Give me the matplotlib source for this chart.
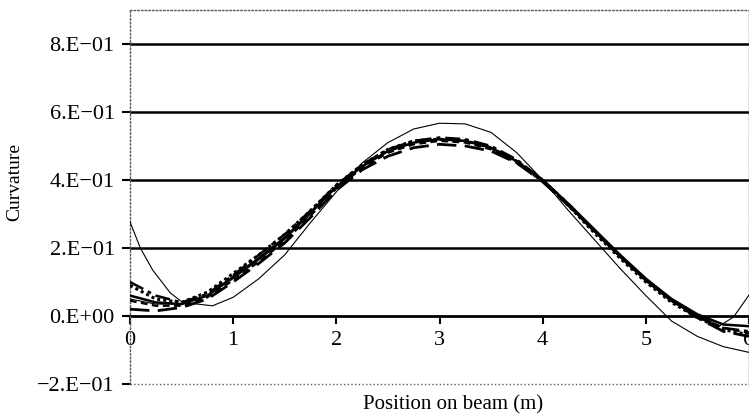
import matplotlib
matplotlib.use("Agg")
import matplotlib.pyplot as plt

plt.rcParams['font.family'] = ['Liberation Serif', 'DejaVu Serif']

# positions along the beam (m)
x = [0, 0.25, 0.5, 0.75, 1.0, 1.25, 1.5, 1.75, 2.0, 2.25, 2.5, 2.75, 3.0,
     3.25, 3.5, 3.75, 4.0, 4.25, 4.5, 4.75, 5.0, 5.25, 5.5, 5.75, 6.0]

curv_solid = [0.06, 0.04, 0.035, 0.06, 0.115, 0.17, 0.23, 0.305, 0.38, 0.44, 0.485, 0.51, 0.52,
              0.515, 0.495, 0.455, 0.40, 0.33, 0.255, 0.18, 0.11, 0.05, 0.005, -0.025, -0.03]
curv_dashdot = [0.10, 0.06, 0.04, 0.065, 0.12, 0.18, 0.24, 0.31, 0.385, 0.445, 0.49, 0.515, 0.525,
                0.52, 0.50, 0.46, 0.40, 0.33, 0.25, 0.175, 0.105, 0.045, 0.0, -0.035, -0.045]
curv_longdash = [0.02, 0.015, 0.025, 0.05, 0.10, 0.155, 0.215, 0.29, 0.37, 0.43, 0.47, 0.495, 0.505,
                 0.50, 0.485, 0.45, 0.395, 0.325, 0.25, 0.175, 0.105, 0.045, -0.005, -0.045, -0.06]
curv_dotted = [0.09, 0.05, 0.04, 0.07, 0.125, 0.18, 0.24, 0.31, 0.385, 0.445, 0.49, 0.515, 0.52,
               0.515, 0.495, 0.455, 0.40, 0.325, 0.245, 0.17, 0.10, 0.04, -0.005, -0.04, -0.055]
curv_shortdash = [0.045, 0.03, 0.03, 0.055, 0.105, 0.16, 0.22, 0.295, 0.375, 0.435, 0.48, 0.505, 0.515,
                  0.51, 0.49, 0.45, 0.395, 0.325, 0.25, 0.175, 0.105, 0.045, 0.0, -0.035, -0.05]

# thin reference curve, finer near the left support
x_thin = [0, 0.1, 0.22, 0.39, 0.51, 0.8, 1.0, 1.15, 1.25, 1.5, 1.75, 2.0, 2.25, 2.5, 2.75, 3.0,
          3.25, 3.5, 3.75, 4.0, 4.25, 4.5, 4.75, 5.0, 5.25, 5.5, 5.75, 6.0]
curv_thin = [0.277, 0.20, 0.135, 0.068, 0.04, 0.03, 0.055, 0.088, 0.11, 0.18, 0.275, 0.365, 0.45,
             0.51, 0.55, 0.567, 0.565, 0.54, 0.48, 0.40, 0.31, 0.225, 0.14, 0.06, -0.015, -0.06,
             -0.09, -0.107]

# second thin curve, turns up at the right support
x_thin2 = [0, 0.25, 0.5, 0.75, 1.0, 1.25, 1.5, 1.75, 2.0, 2.25, 2.5, 2.75, 3.0, 3.25, 3.5, 3.75,
           4.0, 4.25, 4.5, 4.75, 5.0, 5.25, 5.5, 5.7, 5.85, 5.95, 6.0]
curv_thin2 = [0.05, 0.035, 0.035, 0.06, 0.11, 0.165, 0.225, 0.3, 0.378, 0.44, 0.485, 0.51, 0.52,
              0.515, 0.495, 0.455, 0.40, 0.33, 0.25, 0.175, 0.105, 0.045, -0.005, -0.032, -0.003,
              0.04, 0.062]

yticks = [-0.2, 0.0, 0.2, 0.4, 0.6, 0.8]
ytick_labels = ['\u22122.E\u221201', '0.E+00', '2.E\u221201', '4.E\u221201', '6.E\u221201', '8.E\u221201']
xticks = [0, 1, 2, 3, 4, 5, 6]
gridlines = [0.2, 0.4, 0.6, 0.8]

fig = plt.figure(figsize=(7.49, 4.18), dpi=100)
ax = fig.add_axes([130 / 749, 34 / 418, 619 / 749, 374 / 418])

for g in gridlines:
    ax.axhline(g, color='black', lw=1.8, zorder=1)
ax.axhline(-0.2, color='0.35', lw=1.0, ls=':', zorder=1, clip_on=False)

ax.plot(x_thin, curv_thin, color='black', lw=0.8, zorder=3)
ax.plot(x_thin2, curv_thin2, color='black', lw=0.8, zorder=3)
ax.plot(x, curv_longdash, color='black', lw=2.0, ls=(0, (7, 3)), zorder=3)
ax.plot(x, curv_shortdash, color='black', lw=1.6, ls=(0, (3, 2)), zorder=3)
ax.plot(x, curv_dotted, color='black', lw=2.2, ls=(0, (1, 1)), zorder=3)
ax.plot(x, curv_dashdot, color='black', lw=1.8, ls=(0, (6, 2, 1.5, 2)), zorder=3)
ax.plot(x, curv_solid, color='black', lw=1.8, zorder=3)

ax.set_xlim(0, 6)
ax.set_ylim(-0.2, 0.9)
ax.set_xticks(xticks)
ax.set_xticklabels([str(t) for t in xticks])
ax.set_yticks(yticks)
ax.set_yticklabels(ytick_labels)

for side in ['top', 'right', 'left']:
    ax.spines[side].set_linestyle(':')
    ax.spines[side].set_color('0.35')
    ax.spines[side].set_linewidth(1.0)
ax.spines['bottom'].set_position(('data', 0))
ax.spines['bottom'].set_linewidth(2.0)
ax.spines['bottom'].set_zorder(2)

ax.tick_params(axis='both', direction='out', length=6, width=1.5, colors='black',
               labelsize=16, pad=5)

fig.text(0.02, 0.565, 'Curvature', rotation=90, ha='center', va='center', fontsize=14)
fig.text(0.605, 0.031, 'Position on beam (m)', ha='center', va='center', fontsize=15)

fig.savefig('out.png', dpi=100)
